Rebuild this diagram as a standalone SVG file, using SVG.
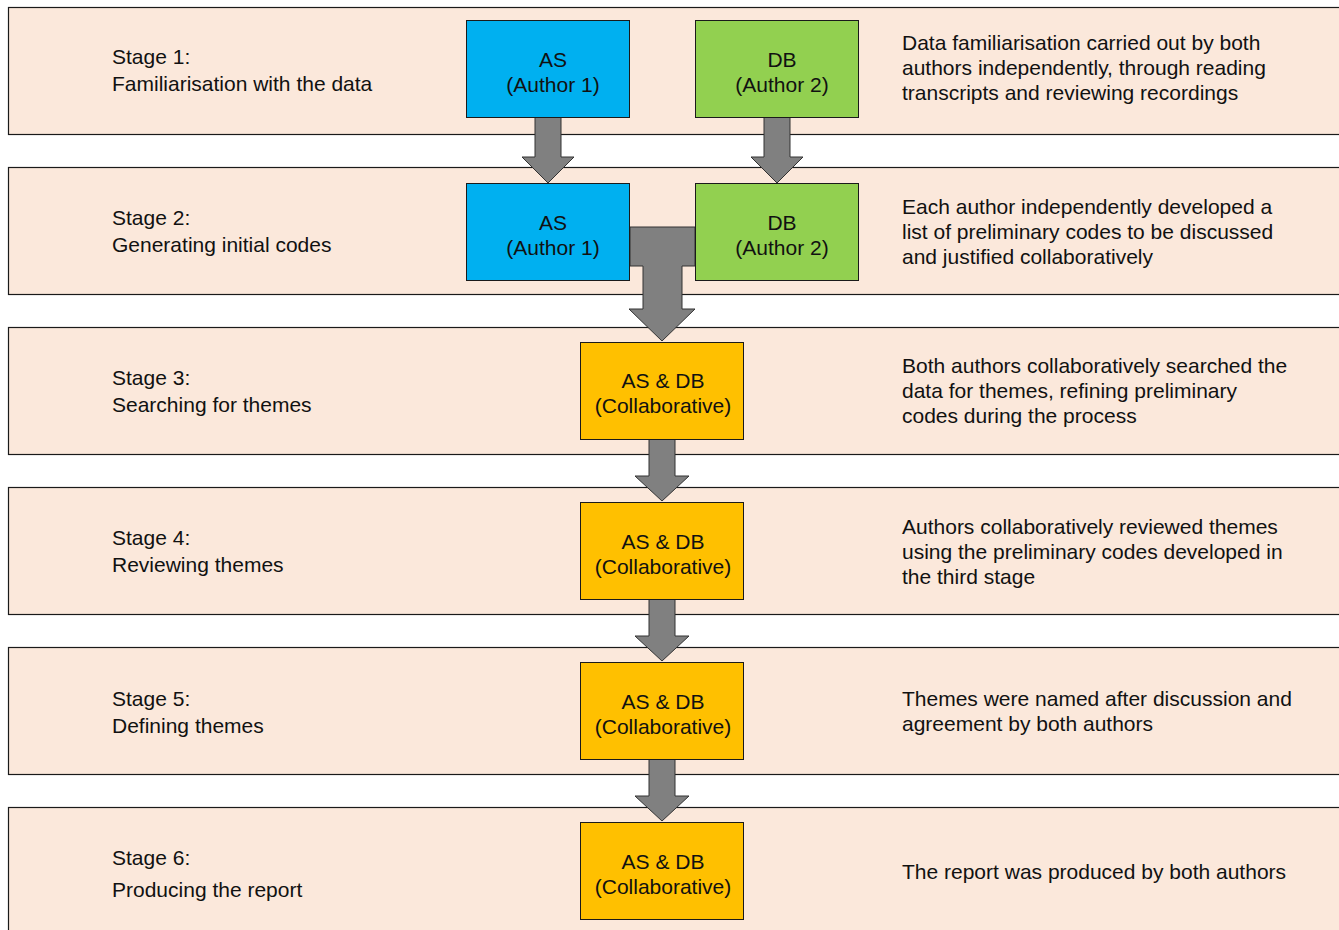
<svg xmlns="http://www.w3.org/2000/svg" width="1339" height="930" viewBox="0 0 1339 930">
<style>
.band{fill:#FBE8DB;stroke:#1a1a1a;stroke-width:1.2}
.as{fill:#00B0F0;stroke:#1a1a1a;stroke-width:1}
.db{fill:#92D050;stroke:#1a1a1a;stroke-width:1}
.co{fill:#FFC000;stroke:#1a1a1a;stroke-width:1}
.arr{fill:#808080;stroke:#333;stroke-width:1;stroke-linejoin:miter}
text{font-family:"Liberation Sans",Arial,sans-serif;font-size:21px;fill:#111}
.c{text-anchor:middle}
</style>
<rect width="1339" height="930" fill="#fff"/>
<g id="bands">
<g id="stage1"><rect class="band" x="8.5" y="7.5" width="1340" height="127"/>
<text x="112" y="64">Stage 1:</text><text x="112" y="91">Familiarisation with the data</text>
<text x="902" y="50">Data familiarisation carried out by both</text><text x="902" y="75">authors independently, through reading</text><text x="902" y="100">transcripts and reviewing recordings</text></g>
<g id="stage2"><rect class="band" x="8.5" y="167.5" width="1340" height="127"/>
<text x="112" y="225">Stage 2:</text><text x="112" y="252">Generating initial codes</text>
<text x="902" y="214">Each author independently developed a</text><text x="902" y="239">list of preliminary codes to be discussed</text><text x="902" y="264">and justified collaboratively</text></g>
<g id="stage3"><rect class="band" x="8.5" y="327.5" width="1340" height="127"/>
<text x="112" y="385">Stage 3:</text><text x="112" y="412">Searching for themes</text>
<text x="902" y="373">Both authors collaboratively searched the</text><text x="902" y="398">data for themes, refining preliminary</text><text x="902" y="423">codes during the process</text></g>
<g id="stage4"><rect class="band" x="8.5" y="487.5" width="1340" height="127"/>
<text x="112" y="545">Stage 4:</text><text x="112" y="572">Reviewing themes</text>
<text x="902" y="534">Authors collaboratively reviewed themes</text><text x="902" y="559">using the preliminary codes developed in</text><text x="902" y="584">the third stage</text></g>
<g id="stage5"><rect class="band" x="8.5" y="647.5" width="1340" height="127"/>
<text x="112" y="706">Stage 5:</text><text x="112" y="733">Defining themes</text>
<text x="902" y="706">Themes were named after discussion and</text><text x="902" y="731">agreement by both authors</text></g>
<g id="stage6"><rect class="band" x="8.5" y="807.5" width="1340" height="140"/>
<text x="112" y="865">Stage 6:</text><text x="112" y="897">Producing the report</text>
<text x="902" y="879">The report was produced by both authors</text></g>
</g>
<g id="connectors">
<polygon class="arr" points="535,117.5 561,117.5 561,157 574,157 548,183 522,157 535,157"/>
<polygon class="arr" points="764,117.5 790,117.5 790,157 803,157 777,183 751,157 764,157"/>
<polygon class="arr" points="630,227 695,227 695,266 682,266 682,309 695,309 662,341 629,309 643,309 643,266 630,266"/>
<polygon class="arr" points="649,439.5 675,439.5 675,476 689,476 662,501 635,476 649,476"/>
<polygon class="arr" points="649,599.5 675,599.5 675,636 689,636 662,661 635,636 649,636"/>
<polygon class="arr" points="649,759.5 675,759.5 675,796 689,796 662,821 635,796 649,796"/>
</g>
<g id="as1"><rect class="as" x="466.5" y="20.5" width="163" height="97"/><text class="c" x="553" y="67">AS</text><text class="c" x="553" y="92">(Author 1)</text></g>
<g id="db1"><rect class="db" x="695.5" y="20.5" width="163" height="97"/><text class="c" x="782" y="67">DB</text><text class="c" x="782" y="92">(Author 2)</text></g>
<g id="as2"><rect class="as" x="466.5" y="183.5" width="163" height="97"/><text class="c" x="553" y="230">AS</text><text class="c" x="553" y="255">(Author 1)</text></g>
<g id="db2"><rect class="db" x="695.5" y="183.5" width="163" height="97"/><text class="c" x="782" y="230">DB</text><text class="c" x="782" y="255">(Author 2)</text></g>
<g id="co3"><rect class="co" x="580.5" y="342.5" width="163" height="97"/><text class="c" x="663" y="388">AS &amp; DB</text><text class="c" x="663" y="413">(Collaborative)</text></g>
<g id="co4"><rect class="co" x="580.5" y="502.5" width="163" height="97"/><text class="c" x="663" y="549">AS &amp; DB</text><text class="c" x="663" y="574">(Collaborative)</text></g>
<g id="co5"><rect class="co" x="580.5" y="662.5" width="163" height="97"/><text class="c" x="663" y="709">AS &amp; DB</text><text class="c" x="663" y="734">(Collaborative)</text></g>
<g id="co6"><rect class="co" x="580.5" y="822.5" width="163" height="97"/><text class="c" x="663" y="869">AS &amp; DB</text><text class="c" x="663" y="894">(Collaborative)</text></g>
</svg>
